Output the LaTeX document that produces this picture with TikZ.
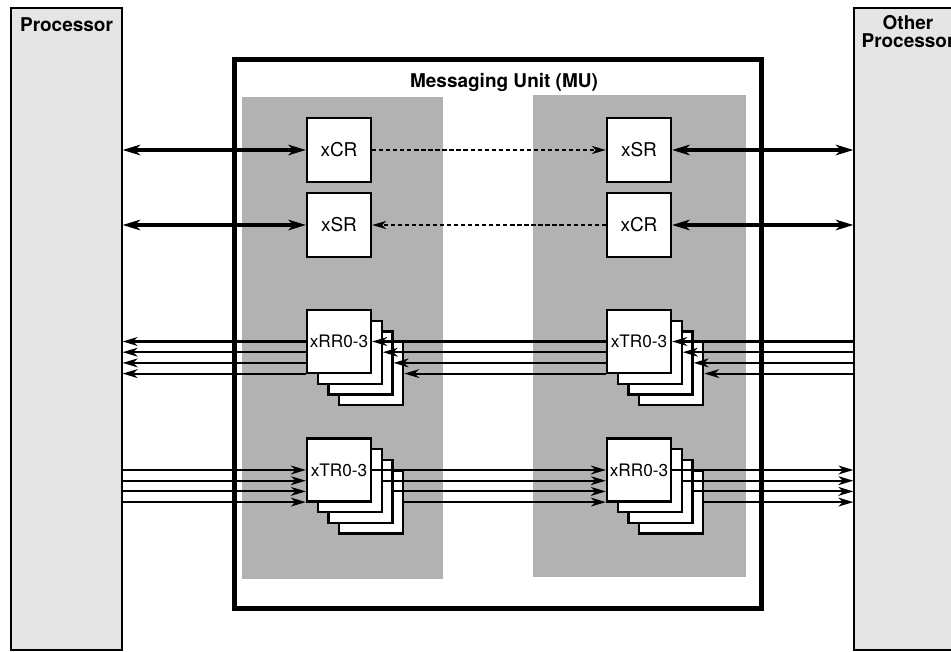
\documentclass[tikz,border=0pt]{standalone}
\usepackage{fontspec}
\setmainfont{TeX Gyre Heros}
\usetikzlibrary{arrows.meta}

\tikzset{
  cpu/.style={draw, line width=0.7pt, fill=black!10, minimum width=2.22cm, minimum height=12.84cm, inner sep=0pt},
  reg/.style={draw, line width=1.3pt, fill=white, minimum width=1.28cm, minimum height=1.28cm, inner sep=0pt, font=\fontsize{10.8}{13}\selectfont},
  regstack/.style={reg, minimum height=1.26cm, font=\fontsize{9.8}{12}\selectfont},
  heading/.style={font=\fontsize{10.8}{10.2}\selectfont\bfseries, align=center},
  bus/.style={line width=2.5pt, {Stealth[length=10pt,width=6pt,inset=3pt]}-{Stealth[length=10pt,width=6pt,inset=3pt]}},
  sig/.style={line width=1.2pt, -{Stealth[length=8.5pt,width=5pt,inset=2.5pt]}},
  doorbell/.style={line width=1.3pt, dash pattern=on 2.4pt off 1.6pt, -{Stealth[length=8pt,width=4.6pt,inset=2.4pt]}},
}

\begin{document}
\begin{tikzpicture}[x=0.02cm, y=-0.02cm]
\useasboundingbox (0,0) rectangle (951,652);
\clip (0,0) rectangle (951,652);

% processors
\node[cpu] (p1) at (66.5,329) {};
\node[cpu] (p2) at (909.5,329) {};
\node[heading] (p1name) at (66.5,25) {Processor};
\node[heading] (p2name) at (908,32) {Other\\Processor};

% messaging unit
\node[draw, line width=2.8pt, minimum width=10.56cm, minimum height=11cm, inner sep=0pt] (mu) at (498,334) {};
\node[heading] (muname) at (504,83) {Messaging Unit (MU)};
\fill[black!30] (242,97) rectangle (443,579);
\fill[black!30] (533,95) rectangle (746,577);

% command / status registers
\node[reg] (lcr) at (339,150) {xCR};
\node[reg] (lsr) at (339,225) {xSR};
\node[reg] (rsr) at (639,150) {xSR};
\node[reg] (rcr) at (639,225) {xCR};

% register stacks, back to front
\node[regstack] (lrr3) at (371.1,373.6) {};
\node[regstack] (lrr2) at (360.4,362.9) {};
\node[regstack] (lrr1) at (349.7,352.2) {};
\node[regstack] (lrr0) at (339,341.5) {xRR0-3};

\node[regstack] (rtr3) at (671.1,373.6) {};
\node[regstack] (rtr2) at (660.4,362.9) {};
\node[regstack] (rtr1) at (649.7,352.2) {};
\node[regstack] (rtr0) at (639,341.5) {xTR0-3};

\node[regstack] (ltr3) at (371.1,502.1) {};
\node[regstack] (ltr2) at (360.4,491.4) {};
\node[regstack] (ltr1) at (349.7,480.7) {};
\node[regstack] (ltr0) at (339,470) {xTR0-3};

\node[regstack] (rrr3) at (671.1,502.1) {};
\node[regstack] (rrr2) at (660.4,491.4) {};
\node[regstack] (rrr1) at (649.7,480.7) {};
\node[regstack] (rrr0) at (639,470) {xRR0-3};

% buses to the processors
\draw[bus] (p1.east |- lcr) -- (lcr.west);
\draw[bus] (p1.east |- lsr) -- (lsr.west);
\draw[bus] (rsr.east) -- (p2.west |- rsr);
\draw[bus] (rcr.east) -- (p2.west |- rcr);

\draw[doorbell] (lcr.east) -- (rsr.west);
\draw[doorbell] (rcr.west) -- (lsr.east);

% other processor -> processor
\draw[sig] (p2.west |- rtr0) -- (rtr0.east);
\draw[sig] (p2.west |- rtr1) -- (rtr1.east);
\draw[sig] (p2.west |- rtr2) -- (rtr2.east);
\draw[sig] (p2.west |- rtr3) -- (rtr3.east);

\draw[sig] (rtr0.west |- lrr0) -- (lrr0.east);
\draw[sig] (rtr0.west |- lrr1) -- (lrr1.east);
\draw[sig] (rtr0.west |- lrr2) -- (lrr2.east);
\draw[sig] (rtr0.west |- lrr3) -- (lrr3.east);

\draw[sig] (lrr0.west) -- (p1.east |- lrr0);
\draw[sig] (lrr0.west |- lrr1) -- (p1.east |- lrr1);
\draw[sig] (lrr0.west |- lrr2) -- (p1.east |- lrr2);
\draw[sig] (lrr0.west |- lrr3) -- (p1.east |- lrr3);

% processor -> other processor
\draw[sig] (p1.east |- ltr0) -- (ltr0.west);
\draw[sig] (p1.east |- ltr1) -- (ltr0.west |- ltr1);
\draw[sig] (p1.east |- ltr2) -- (ltr0.west |- ltr2);
\draw[sig] (p1.east |- ltr3) -- (ltr0.west |- ltr3);

\draw[sig] (ltr0.east) -- (rrr0.west);
\draw[sig] (ltr1.east) -- (rrr0.west |- ltr1);
\draw[sig] (ltr2.east) -- (rrr0.west |- ltr2);
\draw[sig] (ltr3.east) -- (rrr0.west |- ltr3);

\draw[sig] (rrr0.east) -- (p2.west |- rrr0);
\draw[sig] (rrr1.east) -- (p2.west |- rrr1);
\draw[sig] (rrr2.east) -- (p2.west |- rrr2);
\draw[sig] (rrr3.east) -- (p2.west |- rrr3);
\end{tikzpicture}
\end{document}
